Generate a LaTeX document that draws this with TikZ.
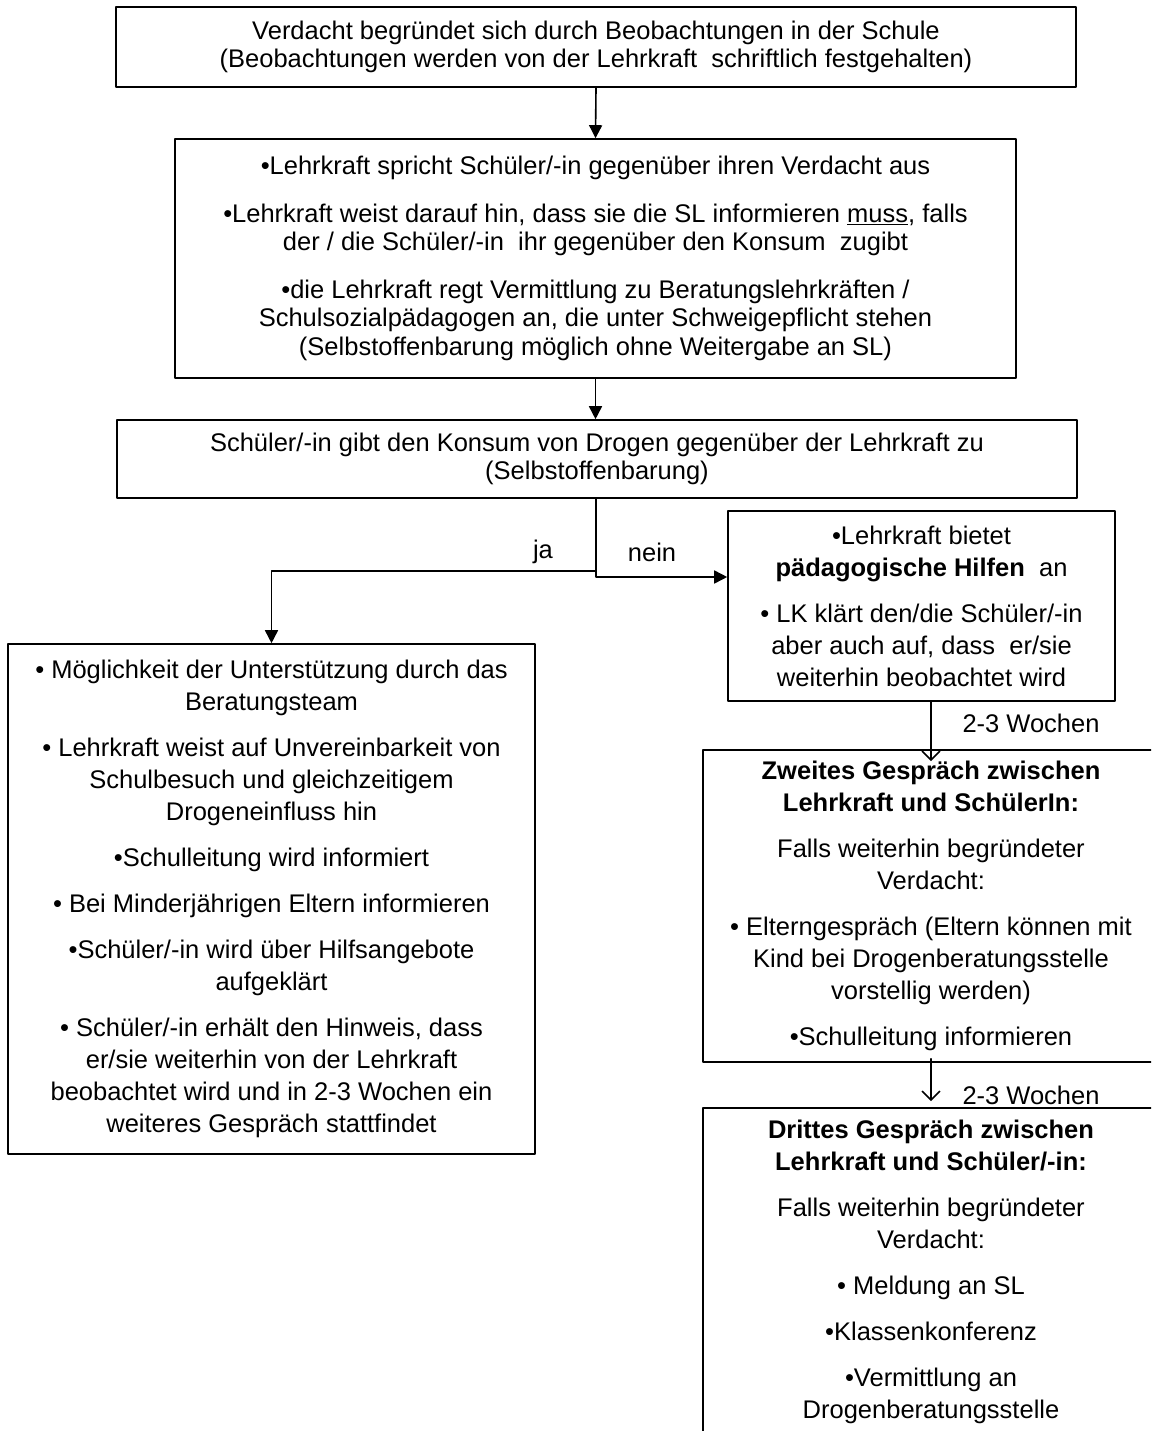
\documentclass[tikz,border=0pt]{standalone}
\usepackage{fontspec}
\setmainfont{Liberation Sans}
\usetikzlibrary{arrows.meta,calc}

\tikzset{
	box/.style={draw,line width=1.6pt,align=center,inner sep=0pt,font=\fontsize{25.5}{32}\selectfont},
	eng/.style={font=\fontsize{25.5}{28.5}\selectfont},
	label/.style={font=\fontsize{25.5}{32}\selectfont,inner sep=0pt},
	pfeil/.style={line width=1.6pt,-{Triangle[length=13pt,width=13pt]}},
	offen/.style={line width=1.6pt,-{Straight Barb[length=9pt,width=18pt,line width=1.6pt]}}
}

\begin{document}
\begin{tikzpicture}[line cap=round,line join=round,x=1pt,y=-1pt]
		\useasboundingbox (0,0) rectangle (1151,1431);
		\clip (0,0) rectangle (1151,1431);
		\node[box,eng,minimum width=960pt,minimum height=80pt] (verdacht) at (596,47) {Verdacht begründet sich durch Beobachtungen in der Schule\\(Beobachtungen werden von der Lehrkraft\ \ schriftlich festgehalten)};
		\node[box,eng,minimum width=841pt,minimum height=239pt] (ansprache) at (595.5,258.5) {•Lehrkraft spricht Schüler/-in gegenüber ihren Verdacht aus\\[19pt]
			•Lehrkraft weist darauf hin, dass sie die SL informieren \underline{muss}, falls\\der / die Schüler/-in\ \ ihr gegenüber den Konsum\ \ zugibt\\[19pt]
			•die Lehrkraft regt Vermittlung zu Beratungslehrkräften /\\Schulsozialpädagogen an, die unter Schweigepflicht stehen\\(Selbstoffenbarung möglich ohne Weitergabe an SL)};
		\node[box,eng,minimum width=960pt,minimum height=78pt] (selbst) at (597,459) {Schüler/-in gibt den Konsum von Drogen gegenüber der Lehrkraft zu\\(Selbstoffenbarung)};
		\node[box,minimum width=387pt,minimum height=190pt] (hilfen) at (921.5,606) {•Lehrkraft bietet\\\textbf{pädagogische Hilfen}\ \ an\\[14pt]
			• LK klärt den/die Schüler/-in\\aber auch auf, dass\ \ er/sie\\weiterhin beobachtet wird};
		\node[box,minimum width=527pt,minimum height=510pt] (unterstuetzung) at (271.5,899) {• Möglichkeit der Unterstützung durch das\\Beratungsteam\\[14pt]
			• Lehrkraft weist auf Unvereinbarkeit von\\Schulbesuch und gleichzeitigem\\Drogeneinfluss hin\\[14pt]
			•Schulleitung wird informiert\\[14pt]
			• Bei Minderjährigen Eltern informieren\\[14pt]
			•Schüler/-in wird über Hilfsangebote\\aufgeklärt\\[14pt]
			• Schüler/-in erhält den Hinweis, dass\\er/sie weiterhin von der Lehrkraft\\beobachtet wird und in 2-3 Wochen ein\\weiteres Gespräch stattfindet};
		\node[box,minimum width=456pt,minimum height=312pt] (zweites) at (931,906) {\textbf{Zweites Gespräch zwischen}\\\textbf{Lehrkraft und SchülerIn:}\\[14pt]
			Falls weiterhin begründeter\\Verdacht:\\[14pt]
			• Elterngespräch (Eltern können mit\\Kind bei Drogenberatungsstelle\\vorstellig werden)\\[14pt]
			•Schulleitung informieren};
		\node[box,minimum width=456pt,minimum height=328pt] (drittes) at (931,1272) {\textbf{Drittes Gespräch zwischen}\\\textbf{Lehrkraft und Schüler/-in:}\\[14pt]
			Falls weiterhin begründeter\\Verdacht:\\[14pt]
			• Meldung an SL\\[14pt]
			•Klassenkonferenz\\[14pt]
			•Vermittlung an\\Drogenberatungsstelle};
		\coordinate (gabel) at (596,577);
		\coordinate (gabelja) at (596,571);
		\draw[pfeil] (verdacht.south) -- (ansprache.north);
		\draw[pfeil] (ansprache.south) -- (ansprache.south |- selbst.north);
		\draw[pfeil] (selbst.south -| gabel) -- (gabel) -- (gabel -| hilfen.west);
		\draw[pfeil] (gabelja) -| (unterstuetzung.north);
		\node[label] (ja) at (543,552) {ja};
		\node[label] (nein) at (652,552) {nein};
		\draw[offen] (hilfen.south -| zweites.north) -- ($(zweites.north)+(0,12)$);
		\draw[offen] ($(zweites.south)+(0,-4)$) -- ($(drittes.north)+(0,-6)$);
		\node[label] (wochen1) at (1031,723) {2-3 Wochen};
		\node[label] (wochen2) at (1031,1095) {2-3 Wochen};
	\end{tikzpicture}
\end{document}
